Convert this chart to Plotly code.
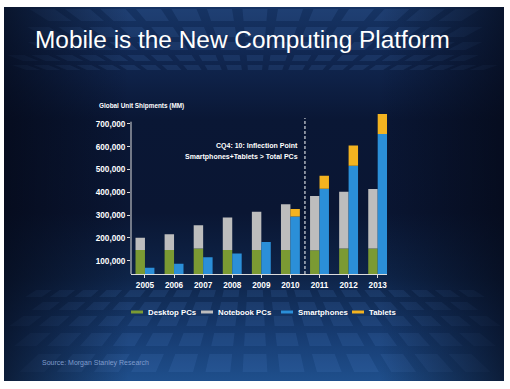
import plotly.graph_objects as go

# ---------------- data -------------
years = ["2005", "2006", "2007", "2008", "2009", "2010", "2011", "2012", "2013"]
desktop_pcs = [147000, 147000, 153000, 147000, 147000, 147000, 146000, 153000, 153000]
notebook_pcs = [54000, 69000, 102000, 142000, 168000, 201000, 238000, 250000, 262000]
smartphones = [69000, 87000, 115000, 132000, 182000, 294000, 416000, 517000, 656000]
tablets = [0, 0, 0, 0, 0, 33000, 57000, 88000, 88000]
y_ticks = [100000, 200000, 300000, 400000, 500000, 600000, 700000]
series_names = ["Desktop PCs", "Notebook PCs", "Smartphones", "Tablets"]
series_colors = ["#7b9a33", "#bdbdbd", "#2b8fd8", "#f3b320"]

# ---------------- helpers ----------------
W, H = 510, 389
FONT = "Liberation Sans, Arial, Helvetica, sans-serif"
SL, ST, SR, SB = 4, 7, 504, 381  # slide edges (px)


def px(x):
    return x / W


def py(y):
    return 1 - y / H


fig = go.Figure()

# slide background (vertical gradient)
fig.add_trace(go.Scatter(
    x=[SL, SR, SR, SL, SL], y=[ST, ST, SB, SB, ST], mode="none", fill="toself",
    fillgradient=dict(type="vertical", start=ST, stop=SB,
                      colorscale=[[0, "#163464"], [0.12, "#112853"], [0.3, "#0a1735"],
                                  [0.55, "#0a1633"], [0.72, "#0e2448"], [0.88, "#173c72"],
                                  [1, "#1f4f8c"]]),
    hoverinfo="skip", showlegend=False, xaxis="x", yaxis="y"))


# decorative perspective tiles (floor and ceiling of the slide backdrop)
def tile_rows(rows, vx, vy, ref_dist, spacing, width):
    xs, ys = [], []
    for ya, yb in rows:
        fa = abs(ya - vy) / ref_dist
        fb = abs(yb - vy) / ref_dist
        for k in range(-12, 13):
            c = k * spacing + (spacing / 2 if k % 1 else 0)
            xa0, xa1 = vx + (c - width / 2) * fa, vx + (c + width / 2) * fa
            xb0, xb1 = vx + (c - width / 2) * fb, vx + (c + width / 2) * fb
            if min(xa0, xb0) < SL + 2 or max(xa1, xb1) > SR - 2:
                continue
            xs += [xa0, xa1, xb1, xb0, xa0, None]
            ys += [ya, ya, yb, yb, ya, None]
    return xs, ys


fx, fy = tile_rows([(290, 297), (302, 310), (316, 326), (333, 346), (354, 372)],
                   vx=255, vy=150, ref_dist=215, spacing=36, width=24)
cx, cy = tile_rows([(9, 21), (27, 37), (42, 50), (55, 61), (65, 70)],
                   vx=255, vy=150, ref_dist=135, spacing=34, width=24)
fig.add_trace(go.Scatter(x=fx + cx, y=fy + cy, mode="none", fill="toself",
                         fillcolor="rgba(90,150,225,0.13)", hoverinfo="skip",
                         showlegend=False, xaxis="x", yaxis="y"))

# darker side edges
fig.add_trace(go.Scatter(
    x=[SL, SR, SR, SL, SL], y=[ST, ST, SB, SB, ST], mode="none", fill="toself",
    fillgradient=dict(type="horizontal", start=SL, stop=SR,
                      colorscale=[[0, "rgba(4,8,22,0.7)"], [0.25, "rgba(4,8,22,0.0)"],
                                  [0.75, "rgba(4,8,22,0.0)"], [1, "rgba(4,8,22,0.7)"]]),
    hoverinfo="skip", showlegend=False, xaxis="x", yaxis="y"))

# bars
fig.add_trace(go.Bar(x=years, y=desktop_pcs, name=series_names[0], offsetgroup="pc",
                     marker=dict(color=series_colors[0], line=dict(width=0)),
                     xaxis="x2", yaxis="y2", showlegend=False))
fig.add_trace(go.Bar(x=years, y=notebook_pcs, base=desktop_pcs, name=series_names[1], offsetgroup="pc",
                     marker=dict(color=series_colors[1], line=dict(width=0)),
                     xaxis="x2", yaxis="y2", showlegend=False))
fig.add_trace(go.Bar(x=years, y=smartphones, name=series_names[2], offsetgroup="mob",
                     marker=dict(color=series_colors[2], line=dict(width=0)),
                     xaxis="x2", yaxis="y2", showlegend=False))
fig.add_trace(go.Bar(x=years, y=tablets, base=smartphones, name=series_names[3], offsetgroup="mob",
                     marker=dict(color=series_colors[3], line=dict(width=0)),
                     xaxis="x2", yaxis="y2", showlegend=False))

axis_col = "#dcdcdc"
tickfont = dict(family=FONT, size=8.2, color="white", weight="bold")

shapes = [
    # y axis line (stops at the top tick, as in the slide)
    dict(type="line", xref="x2 domain", x0=0, x1=0, yref="y2", y0=41500, y1=710000,
         line=dict(color=axis_col, width=1), layer="above"),
    # inflection divider
    dict(type="line", xref="x2", x0=5.5, x1=5.5, yref="y2", y0=41500, y1=726000,
         line=dict(color="white", width=1, dash="3px,2px"), layer="above"),
]

annotations = [
    dict(text="Mobile is the New Computing Platform", x=px(33), y=py(39), xref="paper", yref="paper",
         xanchor="left", yanchor="middle", showarrow=False,
         font=dict(family=FONT, size=24.4, color="white")),
    dict(text="Global Unit Shipments (MM)", x=px(97), y=py(106), xref="paper", yref="paper",
         xanchor="left", yanchor="middle", showarrow=False,
         font=dict(family=FONT, size=6.4, color="white", weight="bold")),
    dict(text="CQ4: 10: Inflection Point", x=px(300), y=py(146), xref="paper", yref="paper",
         xanchor="right", yanchor="middle", showarrow=False,
         font=dict(family=FONT, size=7, color="white", weight="bold")),
    dict(text="Smartphones+Tablets > Total PCs", x=px(300), y=py(157), xref="paper", yref="paper",
         xanchor="right", yanchor="middle", showarrow=False,
         font=dict(family=FONT, size=7, color="white", weight="bold")),
    dict(text="Source: Morgan Stanley Research", x=px(40), y=py(363), xref="paper", yref="paper",
         xanchor="left", yanchor="middle", showarrow=False,
         font=dict(family=FONT, size=7, color="#7f9ccc")),
]

# manual legend (short thick line symbols, as in the slide)
legend_sym_x = [131, 201, 281, 352]
legend_y = 312
for name, col, sx in zip(series_names, series_colors, legend_sym_x):
    shapes.append(dict(type="rect", xref="paper", yref="paper",
                       x0=px(sx), x1=px(sx + 12), y0=py(legend_y + 1.5), y1=py(legend_y - 1.5),
                       fillcolor=col, line=dict(width=0), layer="above"))
    annotations.append(dict(text=name, x=px(sx + 15), y=py(legend_y), xref="paper", yref="paper",
                            xanchor="left", yanchor="middle", showarrow=False,
                            font=dict(family=FONT, size=7.8, color="white", weight="bold")))

fig.update_layout(
    width=W, height=H,
    margin=dict(l=0, r=0, t=0, b=0),
    paper_bgcolor="white",
    plot_bgcolor="rgba(0,0,0,0)",
    barmode="group", bargap=0.35, bargroupgap=0,
    xaxis=dict(domain=[0, 1], range=[0, W], visible=False, fixedrange=True),
    yaxis=dict(domain=[0, 1], range=[H, 0], visible=False, fixedrange=True),
    xaxis2=dict(domain=[131 / W, 387 / W], anchor="y2", type="category",
                range=[-0.48, 8.32], showline=True, linecolor=axis_col, linewidth=1,
                ticks="outside", ticklen=3, tickcolor=axis_col, tickfont=tickfont,
                showgrid=False, zeroline=False),
    yaxis2=dict(domain=[1 - 274 / H, 1 - 110.3 / H], anchor="x2",
                range=[41500, 760000], tickvals=y_ticks, tickformat=",",
                ticks="outside", ticklen=3, tickcolor=axis_col, tickfont=tickfont,
                showline=False, showgrid=False, zeroline=False),
    shapes=shapes,
    annotations=annotations,
    showlegend=False,
)

fig.write_html("out.html", config={"displayModeBar": False},
               post_script="document.body.style.margin='0';")
